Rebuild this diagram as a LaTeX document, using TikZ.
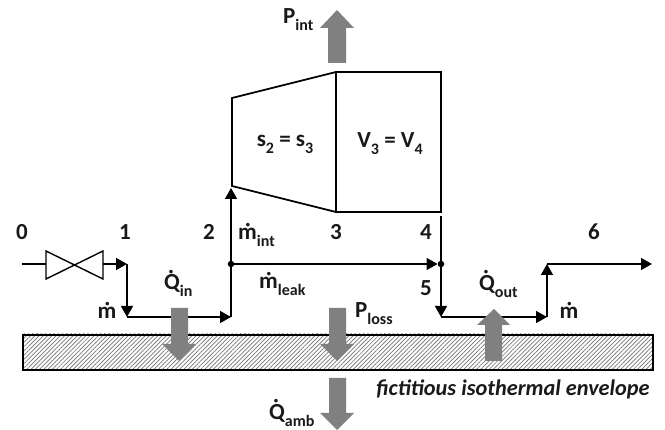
\documentclass[tikz,border=0pt]{standalone}
\usepackage{fontspec}
\setmainfont{Carlito}
\usetikzlibrary{arrows.meta,patterns.meta}
\newcommand{\lowtxt}[1]{\raisebox{-0.3em}{\fontsize{16}{16}\selectfont #1}}
\newcommand{\dotQ}{\leavevmode\rlap{\hspace{.18em}\raisebox{.14em}{˙}}Q}
\definecolor{flowgray}{gray}{0.5}
\tikzset{
  x=1pt,y=-1pt,
  pipe/.style={line width=1.5pt,-{Triangle[length=11pt,width=12pt,sep=0pt]}},
  plain/.style={line width=1.5pt},
  edge/.style={line width=1.8pt,line join=miter},
  blockarrow/.style={fill=flowgray,draw=none},
  lbl/.style={font=\fontsize{23}{25}\selectfont\bfseries,inner sep=0pt,text=black!90},
  junction/.style={circle,fill=black,inner sep=0pt,minimum size=6.5pt}
}
\begin{document}
\begin{tikzpicture}
\useasboundingbox (0,0) rectangle (665,430);
% envelope
\path[pattern={Lines[angle=45,distance=3pt,line width=.7pt]},pattern color=black!55]
  (22,334) rectangle (652,369);
\node[draw=black,line width=1.8pt,minimum width=630pt,minimum height=35pt,inner sep=0pt,anchor=north west] (env) at (22,334) {};
% named points
\coordinate (start) at (22,264);
\coordinate (vl) at (46,264);
\coordinate (vr) at (103,264);
\coordinate (p1) at (127,264);
\coordinate (p1b) at (127,317);
\coordinate (p2b) at (231,317);
\coordinate (p2t) at (231,188);
\coordinate (p4t) at (441,216);
\coordinate (p5) at (441,317);
\coordinate (p5r) at (547,317);
\coordinate (p6) at (547,264);
\coordinate (p6e) at (652,264);
\node[junction] (ja) at (231,264) {};
\node[junction] (jb) at (441,264) {};
% valve
\draw[plain] (start) -- (vl);
\draw[line width=1.4pt] (46,251) -- (103,279) -- (103,251) -- (46,279) -- cycle;
\draw[pipe] (vr) -- (p1);
% pipes
\draw[pipe] (p1) -- (p1b);
\draw[pipe] (p1b) -- (p2b);
\draw[plain] (p2b) -- (ja);
\draw[pipe] (ja) -- (p2t);
\draw[pipe] (ja) -- (jb);
\draw[plain] (p4t) -- (jb);
\draw[pipe] (jb) -- (p5);
\draw[pipe] (p5) -- (p5r);
\draw[pipe] (p5r) -- (p6);
\draw[pipe] (p6) -- (p6e);
% machine
\draw[edge] (232,98) -- (336,72) -- (336,212) -- (232,186) -- cycle;
\draw[edge] (336,72) rectangle (441,212);
% block arrows
\fill[blockarrow] (171,308) -- (188,308) -- (188,344) -- (196,344) -- (179,361) -- (162,344) -- (171,344) -- cycle;
\fill[blockarrow] (329,308) -- (346,308) -- (346,344) -- (354,344) -- (337,361) -- (320,344) -- (329,344) -- cycle;
\fill[blockarrow] (329,378) -- (346,378) -- (346,413) -- (354,413) -- (337,430) -- (320,413) -- (329,413) -- cycle;
\fill[blockarrow] (485,361) -- (502,361) -- (502,325) -- (510,325) -- (494,309) -- (477,325) -- (485,325) -- cycle;
\fill[blockarrow] (328,63) -- (346,63) -- (346,28) -- (354,28) -- (337,10) -- (320,28) -- (328,28) -- cycle;
% labels
\node[lbl] (n0) at (22,232) {0};
\node[lbl] (n1) at (125,232) {1};
\node[lbl] (n2) at (209,232) {2};
\node[lbl] (n3) at (336,232) {3};
\node[lbl] (n4) at (426,232) {4};
\node[lbl] (n5) at (426,288) {5};
\node[lbl] (n6) at (594,232) {6};
\node[lbl] (m1) at (107,310) {ṁ};
\node[lbl] (m2) at (569,310) {ṁ};
\node[lbl,anchor=west] (mint) at (238,235) {ṁ\lowtxt{int}};
\node[lbl,anchor=west] (mleak) at (259,284) {ṁ\lowtxt{leak}};
\node[lbl,anchor=west] (qin) at (164,283) {\dotQ\lowtxt{in}};
\node[lbl,anchor=west] (qout) at (479,284) {\dotQ\lowtxt{out}};
\node[lbl,anchor=west] (qamb) at (269,413) {\dotQ\lowtxt{amb}};
\node[lbl,anchor=west] (ploss) at (355,314) {P\lowtxt{loss}};
\node[lbl,anchor=west] (pint) at (283,20) {P\lowtxt{int}};
\node[lbl] (s) at (285,144) {s\lowtxt{2} = s\lowtxt{3}};
\node[lbl] (v) at (390,144) {V\lowtxt{3} = V\lowtxt{4}};
\node[lbl,font=\fontsize{22.3}{24}\selectfont\bfseries\itshape] (cap) at (513,389) {fictitious isothermal envelope};
\end{tikzpicture}
\end{document}
